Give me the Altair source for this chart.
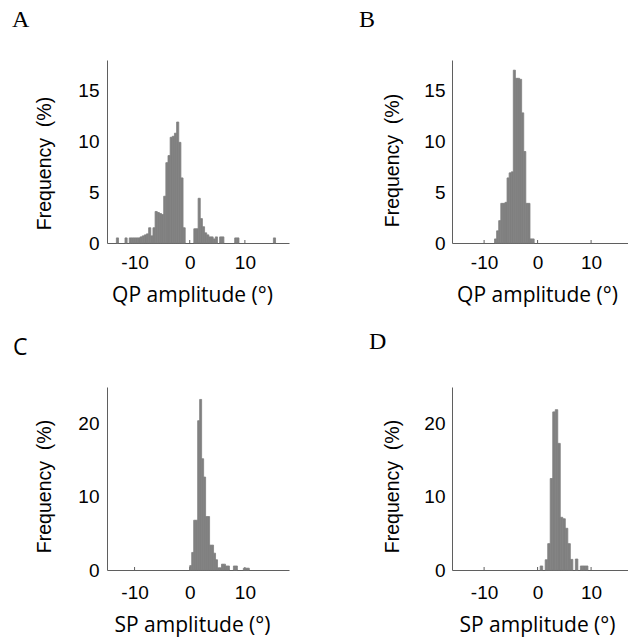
import altair as alt
import pandas as pd

# ---------------- data ----------------
# histogram bins: first bin's left edge, bin width, frequency (%) per bin
a_start, a_width = -13.3, 0.39
a_freq = [0.5, 0, 0, 0, 0.5, 0, 0.5, 0.5, 0.5, 0.5, 0.5, 0.6, 0.7, 0.8, 0.9,
          1.5, 0.7, 1.5, 3.1, 3.0, 2.9, 2.8, 4.6, 7.9, 8.6, 10.4, 10.5, 10.8,
          11.9, 9.9, 6.4, 1.5, 0, 0, 0, 0, 1.4, 1.4, 4.4, 2.4, 1.6, 1.0, 0.8,
          0.6, 0.6, 0.4, 0.6, 0, 0.6, 0.6, 0, 0, 0, 0, 0, 0.5, 0.5, 0, 0, 0,
          0, 0, 0, 0, 0, 0, 0, 0, 0, 0, 0, 0, 0, 0.5]

b_start, b_width = -8.05, 0.39
b_freq = [0.4, 1.2, 2.2, 3.9, 3.9, 4.0, 6.4, 6.9, 7.0, 17.0, 16.2, 16.2, 16.1,
          12.8, 9.0, 3.9, 3.9, 0.4, 0.4]

c_start, c_width = 0.0, 0.36
c_freq = [0.6, 2.4, 6.8, 6.8, 20.4, 23.3, 15.2, 12.7, 7.3, 7.3, 3.4, 3.4, 2.3,
          1.4, 0.3, 0.3, 0.8, 0.8, 0.55, 0.55, 0, 0, 0.55, 0.55, 0, 0, 0,
          0.25, 0.25, 0.25]

d_start, d_width = 0.01, 0.47
d_freq = [0, 0.55, 0, 1.4, 3.6, 12.5, 21.6, 21.9, 17.3, 7.2, 7.0, 5.7, 3.6,
          1.45, 0, 1.5, 0, 0.55, 0.55, 0.55]

x_ticks = [-10, 0, 10]
qp_y_ticks = [0, 5, 10, 15]
sp_y_ticks = [0, 10, 20]
panel_letters = ["A", "B", "C", "D"]
x_titles = ["QP amplitude (°)", "QP amplitude (°)", "SP amplitude (°)", "SP amplitude (°)"]
y_title = "Frequency\u00a0 (%)"

BAR = "#808080"
AX = "#5f5f5f"


def hist_frame(start, width, freq):
    rows = []
    for i, f in enumerate(freq):
        if f > 0:
            lo = start + i * width
            rows.append({"lo": lo, "hi": lo + width, "freq": f})
    return pd.DataFrame(rows)


def panel(df, xdom, ydom, yticks, w, h, xtitle, xlab_pad, xtitle_y,
          ytitle_x, ytitle_y, ylab_pad, letter, lfont, lsize, lx, ly):
    xscale = alt.Scale(domain=xdom, nice=False, zero=False)
    yscale = alt.Scale(domain=ydom, nice=False, zero=True)
    xaxis = alt.Axis(values=x_ticks, title=xtitle, ticks=False, tickSize=0,
                     labelPadding=xlab_pad, labelBaseline="alphabetic",
                     labelExpr="'' + datum.value", labelFlush=False,
                     labelFont="Liberation Sans", labelFontSize=19,
                     labelColor="black", domainColor=AX, domainWidth=1,
                     titleX=85, titleY=xtitle_y, titleBaseline="alphabetic",
                     titleAlign="center", titleFont="Open Sans",
                     titleFontSize=21, titleFontWeight="normal",
                     titleColor="black", grid=False)
    yaxis = alt.Axis(values=yticks, title=y_title, ticks=False, tickSize=0,
                     labelPadding=ylab_pad, labelExpr="'' + datum.value",
                     labelFlush=False, labelFont="Liberation Sans",
                     labelFontSize=19, labelColor="black", domainColor=AX,
                     domainWidth=1, titleAngle=270, titleX=ytitle_x,
                     titleY=ytitle_y, titleBaseline="middle", titleAlign="center",
                     titleFont="Liberation Sans", titleFontSize=19.5,
                     titleFontWeight="normal", titleColor="black", grid=False)
    bars = alt.Chart(df).mark_rect(color=BAR, stroke=BAR, strokeWidth=0.8).encode(
        x=alt.X("lo:Q", scale=xscale, axis=xaxis),
        x2="hi:Q",
        y=alt.Y("freq:Q", scale=yscale, axis=yaxis),
        y2=alt.datum(0),
    )
    ticks = alt.Chart(pd.DataFrame({"lo": x_ticks})).mark_rule(
        color=AX, strokeWidth=1).encode(
        x=alt.X("lo:Q", scale=xscale, axis=xaxis),
        y=alt.value(h),
        y2=alt.value(h - 3),
    )
    lab = alt.Chart(pd.DataFrame({"letter": [letter]})).mark_text(
        align="left", baseline="alphabetic", font=lfont, fontSize=lsize,
        color="black").encode(
        x=alt.value(lx), y=alt.value(ly), text="letter:N")
    return alt.layer(ticks, bars, lab).properties(width=w, height=h)


H = 183
pA = panel(hist_frame(a_start, a_width, a_freq), [-15, 18], [0, 18], qp_y_ticks,
           182, H, x_titles[0], 25, 58, -63, 103, 8,
           panel_letters[0], "Liberation Serif", 24, -95, -33)
pB = panel(hist_frame(b_start, b_width, b_freq), [-16, 16.9], [0, 18], qp_y_ticks,
           176, H, x_titles[1], 25, 58, -60, 100, 7,
           panel_letters[1], "Liberation Serif", 24, -93, -33)
pC = panel(hist_frame(c_start, c_width, c_freq), [-15, 18], [0, 25], sp_y_ticks,
           182, H, x_titles[2], 28, 61, -63, 99, 8,
           panel_letters[2], "Open Sans", 23, -94, -32)
pD = panel(hist_frame(d_start, d_width, d_freq), [-16, 16.9], [0, 25], sp_y_ticks,
           176, H, x_titles[3], 28, 61, -60, 99, 7,
           panel_letters[3], "Liberation Serif", 24, -83, -38)

chart = alt.concat(pA, pB, pC, pD, columns=2,
                   spacing={"row": 144, "column": 163},
                   bounds="flush").properties(
    padding={"left": 12, "top": 8, "right": 0, "bottom": 6},
    background="white"
).configure_view(stroke=None)

chart.save("out.html", embed_options={"renderer": "svg", "actions": False})
